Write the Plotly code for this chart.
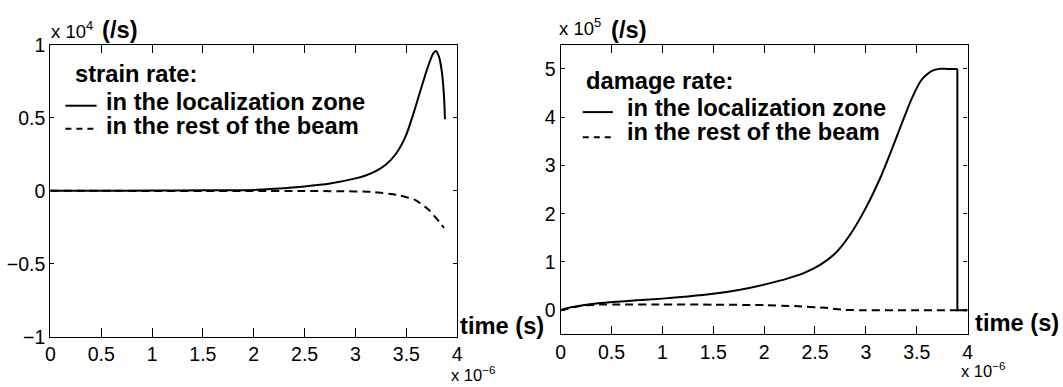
import plotly.graph_objects as go

# ---- data (time in units of 1e-6 s) ----
# left: strain rate (x 1e4 /s)
t_loc_strain = [0, 0.5, 1.0, 1.5, 2.0, 2.2, 2.5, 2.75, 3.0, 3.1, 3.2, 3.3, 3.4, 3.5,
                3.575, 3.64, 3.71, 3.76, 3.79, 3.82, 3.85, 3.87, 3.88]
v_loc_strain = [0, 0, 0.002, 0.003, 0.006, 0.014, 0.03, 0.05, 0.085, 0.105, 0.135, 0.18, 0.255, 0.385,
                0.54, 0.69, 0.845, 0.935, 0.957, 0.92, 0.81, 0.65, 0.49]
t_rest_strain = [0, 0.5, 1.0, 1.5, 2.0, 2.5, 2.835, 3.16, 3.42, 3.59, 3.72, 3.82, 3.87]
v_rest_strain = [0, 0, -0.001, -0.001, -0.001, -0.002, -0.003, -0.008, -0.03, -0.064, -0.13, -0.21, -0.255]

# right: damage rate (x 1e5 /s)
t_loc_damage = [0, 0.1, 0.27, 0.51, 0.75, 1.0, 1.25, 1.5, 1.75, 2.0, 2.25, 2.4, 2.55, 2.7, 2.85,
                3.0, 3.15, 3.25, 3.35, 3.45, 3.55, 3.64, 3.72, 3.8, 3.9]
v_loc_damage = [0, 0.06, 0.12, 0.17, 0.205, 0.24, 0.285, 0.34, 0.42, 0.53, 0.67, 0.78, 0.94, 1.18, 1.58,
                2.12, 2.78, 3.3, 3.85, 4.38, 4.78, 4.95, 5.0, 5.0, 5.0]
t_drop_damage = [3.9, 3.9, 4.0]
v_drop_damage = [5.0, 0, 0]
t_rest_damage = [0, 0.2, 0.35, 0.6, 1.0, 1.5, 2.0, 2.3, 2.6, 2.8, 3.0, 3.5, 4.0]
v_rest_damage = [0, 0.09, 0.115, 0.12, 0.12, 0.115, 0.105, 0.085, 0.05, 0.005, 0, 0, 0]

x_ticks = [0, 0.5, 1, 1.5, 2, 2.5, 3, 3.5, 4]
x_ticktext = ["0", "0.5", "1", "1.5", "2", "2.5", "3", "3.5", "4"]
yl_ticks = [-1, -0.5, 0, 0.5, 1]
yl_ticktext = ["\u22121", "\u22120.5", "0", "0.5", "1"]
yr_ticks = [0, 1, 2, 3, 4, 5]
yr_ticktext = ["0", "1", "2", "3", "4", "5"]

legend_left_title = "strain rate:"
legend_right_title = "damage rate:"
name_loc = "in the localization zone"
name_rest = "in the rest of the beam"

FONT = "Liberation Sans, Arial, Helvetica, sans-serif"
# target picture size and the captured page size (figure + default 8px body margin)
TW, TH = 1063, 387
MARGIN = 8
CW, CH = TW + 2 * MARGIN, TH + 2 * MARGIN
W, H = CW - MARGIN, CH - MARGIN
SX, SY = CW / TW, CH / TH
DASH = "8px,5px"
KEYDASH = "6px,5px"

def px(x):
    return (x * SX - MARGIN) / W

def py(y):
    return 1 - (y * SY - MARGIN) / H

fig = go.Figure()
fig.add_trace(go.Scatter(x=t_loc_strain, y=v_loc_strain, mode="lines", name=name_loc,
                         line=dict(color="black", width=2, shape="spline", smoothing=0.6),
                         xaxis="x", yaxis="y"))
fig.add_trace(go.Scatter(x=t_rest_strain, y=v_rest_strain, mode="lines", name=name_rest,
                         line=dict(color="black", width=2, dash=DASH, shape="spline", smoothing=0.6),
                         xaxis="x", yaxis="y"))
fig.add_trace(go.Scatter(x=t_loc_damage, y=v_loc_damage, mode="lines", name=name_loc,
                         line=dict(color="black", width=2, shape="spline", smoothing=0.6),
                         xaxis="x2", yaxis="y2"))
fig.add_trace(go.Scatter(x=t_drop_damage, y=v_drop_damage, mode="lines", name=name_loc,
                         line=dict(color="black", width=2), xaxis="x2", yaxis="y2"))
fig.add_trace(go.Scatter(x=t_rest_damage, y=v_rest_damage, mode="lines", name=name_rest,
                         line=dict(color="black", width=2, dash=DASH, shape="spline", smoothing=0.4),
                         xaxis="x2", yaxis="y2"))

axis_common = dict(showline=True, linecolor="black", linewidth=1.3, mirror="ticks", ticks="inside",
                   tickcolor="black", showgrid=False, zeroline=False,
                   tickfont=dict(family=FONT, size=19.5, color="black"))

fig.update_layout(
    width=W, height=H, margin=dict(l=0, r=0, t=0, b=0),
    paper_bgcolor="white", plot_bgcolor="white", showlegend=False,
    xaxis=dict(domain=[px(53), px(458)], range=[0, 4], tickvals=x_ticks, ticktext=x_ticktext,
               ticklen=8.5, tickwidth=1, anchor="y", **axis_common),
    yaxis=dict(domain=[py(339), py(42)], range=[-1, 1], tickvals=yl_ticks, ticktext=yl_ticktext,
               ticklen=4, tickwidth=1, anchor="x", **axis_common),
    xaxis2=dict(domain=[px(561), px(966)], range=[0, 4], tickvals=x_ticks, ticktext=x_ticktext,
                ticklen=8.5, tickwidth=1, anchor="y2", **axis_common),
    yaxis2=dict(domain=[py(336.5), py(42)], range=[-0.5, 5.5], tickvals=yr_ticks, ticktext=yr_ticktext,
                ticklen=4, tickwidth=1, anchor="x2", **axis_common),
)

def ann(text, x, y, size, bold=False, xanchor="left", yanchor="middle"):
    fig.add_annotation(text=text, x=px(x), y=py(y), xref="paper", yref="paper", showarrow=False,
                       xanchor=xanchor, yanchor=yanchor,
                       font=dict(family=FONT, size=size, color="black", weight="bold" if bold else "normal"))

def key(x0, x1, y, dash=None):
    fig.add_shape(type="line", xref="paper", yref="paper", x0=px(x0), x1=px(x1), y0=py(y), y1=py(y),
                  line=dict(color="black", width=2, dash=dash))

BF = 23.7
# left panel texts
ann("x 10<sup>4</sup>", 52, 27, 18.5)
ann("(/s)", 102, 27, BF, bold=True)
ann(legend_left_title, 76, 72, BF, bold=True)
key(68, 99, 104)
ann(name_loc, 106, 100.5, BF, bold=True)
key(68, 97, 127.5, KEYDASH)
ann(name_rest, 106, 125, BF, bold=True)
ann("time (s)", 459, 328, BF, bold=True)
ann("x 10<sup>\u22126</sup>", 450, 377, 16.5)
# right panel texts
ann("x 10<sup>5</sup>", 557, 23.5, 18.5)
ann("(/s)", 609, 26.5, BF, bold=True)
ann(legend_right_title, 584, 79, BF, bold=True)
key(583, 613, 110.5)
ann(name_loc, 625, 106, BF, bold=True)
key(583, 611, 136, KEYDASH)
ann(name_rest, 625, 131, BF, bold=True)
ann("time (s)", 971, 325, BF, bold=True)
ann("x 10<sup>\u22126</sup>", 957, 373, 16.5)

fig.write_html("out.html")
